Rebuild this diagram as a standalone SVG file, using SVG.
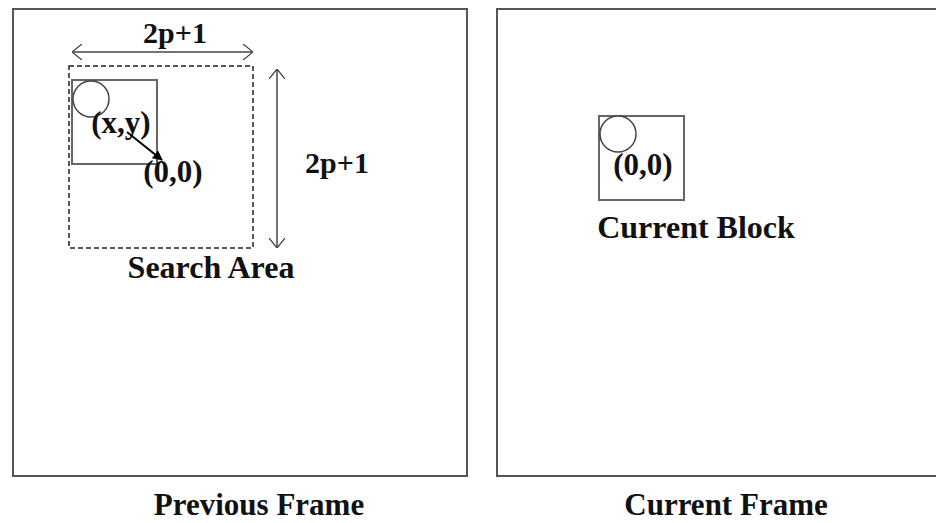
<svg xmlns="http://www.w3.org/2000/svg" width="936" height="523" viewBox="0 0 936 523">
<style>
.frame{fill:none;stroke:#555;stroke-width:2}
.blk{fill:none;stroke:#666;stroke-width:2}
.circ{fill:#fff;stroke:#444;stroke-width:1.5}
.dash{fill:none;stroke:#222;stroke-width:1.5;stroke-dasharray:5,3}
.dim{fill:none;stroke:#444;stroke-width:1.5}
.t{font-family:"Liberation Serif","Times New Roman",serif;font-weight:bold;fill:#111}
</style>
<defs>
<marker id="open" viewBox="0 0 10 16" refX="10" refY="8" markerWidth="10" markerHeight="16" markerUnits="userSpaceOnUse" orient="auto-start-reverse">
<path d="M0,0 L10,8 L0,16" fill="none" stroke="#444" stroke-width="1.3"/>
</marker>
<marker id="solid" viewBox="0 0 10 10" refX="9" refY="5" markerWidth="12" markerHeight="10" markerUnits="userSpaceOnUse" orient="auto">
<path d="M0,0 L10,5 L0,10 z" fill="#000"/>
</marker>
</defs>
<g id="previous-frame">
<rect class="frame" x="13" y="9" width="454" height="467"/>
<text class="t" x="259" y="515" font-size="31" text-anchor="middle">Previous Frame</text>
</g>
<g id="search-area">
<rect class="dash" x="69" y="66" width="184" height="182"/>
<text class="t" x="211" y="278" font-size="32" text-anchor="middle">Search Area</text>
</g>
<g id="candidate-block">
<rect class="blk" x="72" y="80" width="85" height="84"/>
<circle class="circ" cx="91" cy="99" r="18"/>
<text class="t" x="121" y="133" font-size="31" text-anchor="middle">(x,y)</text>
<text class="t" x="173" y="182" font-size="31" text-anchor="middle">(0,0)</text>
</g>
<g id="current-frame">
<rect class="frame" x="497" y="9" width="445" height="467"/>
<text class="t" x="726" y="515" font-size="31" text-anchor="middle">Current Frame</text>
</g>
<g id="current-block">
<rect class="blk" x="599" y="116" width="85" height="84"/>
<circle class="circ" cx="618" cy="134" r="18"/>
<text class="t" x="643" y="175" font-size="31" text-anchor="middle">(0,0)</text>
<text class="t" x="696" y="238" font-size="32" text-anchor="middle">Current Block</text>
</g>
<g id="dimensions">
<text class="t" x="175" y="43" font-size="30" text-anchor="middle">2p+1</text>
<text class="t" x="337" y="173" font-size="30" text-anchor="middle">2p+1</text>
</g>
<g id="connectors">
<line class="dim" x1="72" y1="52" x2="253" y2="52" marker-start="url(#open)" marker-end="url(#open)"/>
<line class="dim" x1="277" y1="69" x2="277" y2="248" marker-start="url(#open)" marker-end="url(#open)"/>
<line x1="127" y1="132" x2="162" y2="160" stroke="#000" stroke-width="2" marker-end="url(#solid)"/>
</g>
</svg>
